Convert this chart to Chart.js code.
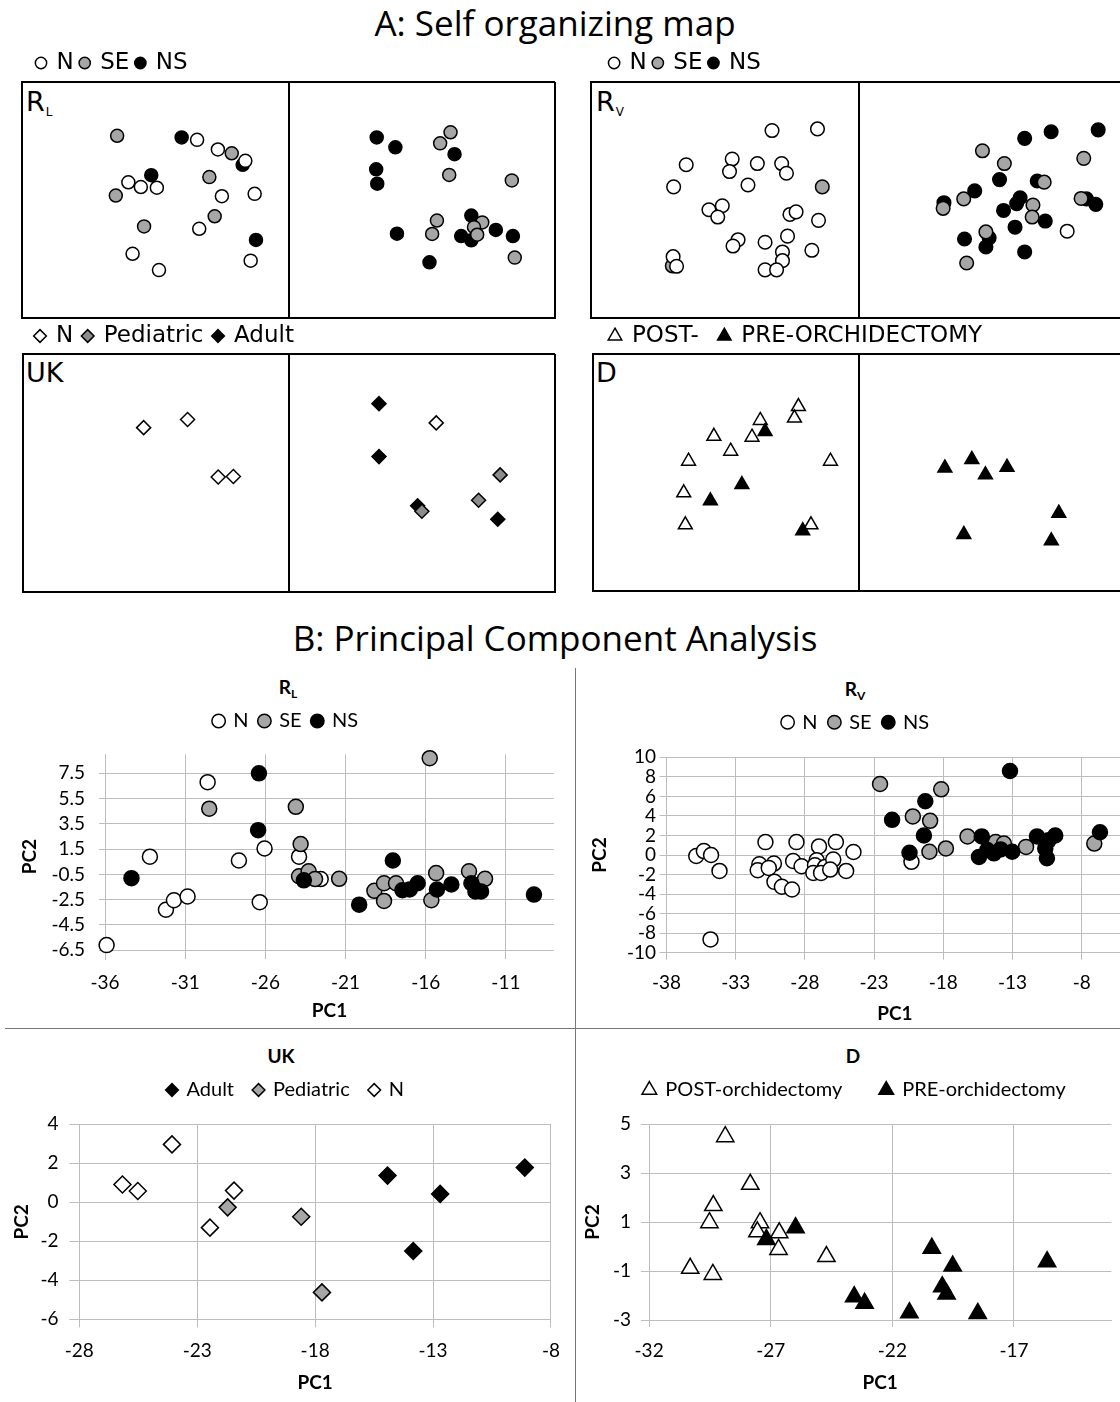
<!DOCTYPE html>
<html>
<head>
<meta charset="utf-8">
<title>SOM / PCA</title>
<script src="https://cdn.jsdelivr.net/npm/chart.js@4.4.1/dist/chart.umd.min.js"></script>
<style>
  html, body { margin: 0; padding: 0; }
  body { position: relative; width: 1120px; height: 1402px; overflow: hidden; background: #fff; color: #000; }
  .panel { position: absolute; }
  .panel canvas { display: block; }
  .head { position: absolute; left: 555px; transform: translate(-50%, -50%); font: 35px 'Open Sans', sans-serif; line-height: 1; white-space: nowrap; }
  .tag { position: absolute; font: 27px 'DejaVu Sans', sans-serif; line-height: 1; }
  .tag sub { font-size: 12px; vertical-align: -5px; margin-left: 1px; }
  .ptitle { position: absolute; transform: translate(-50%, -50%); font: bold 19px Lato, sans-serif; line-height: 1; white-space: nowrap; }
  .ptitle sub { font-size: 12px; vertical-align: -4px; }
  .rule { position: absolute; background: #777; }
</style>
</head>
<body>

<div class="head" style="top:22px">A: Self organizing map</div>
<div class="head" style="top:637px">B: Principal Component Analysis</div>

<div class="tag" style="left:26px;top:88px">R<sub>L</sub></div>
<div class="tag" style="left:596px;top:88px">R<sub>V</sub></div>
<div class="tag" style="left:26px;top:359px">UK</div>
<div class="tag" style="left:596px;top:359px">D</div>

<div class="ptitle" style="left:288px;top:688px">R<sub>L</sub></div>
<div class="ptitle" style="left:855px;top:690px">R<sub>V</sub></div>
<div class="ptitle" style="left:281px;top:1055px">UK</div>
<div class="ptitle" style="left:853px;top:1055px">D</div>

<div class="rule" style="left:575px;top:668px;width:1px;height:734px"></div>
<div class="rule" style="left:5px;top:1028px;width:1115px;height:1px"></div>

<script>
'use strict';

/* ── A: SOM node positions, map units (left half 0..1, right half 1..2) ── */
const SOM_RL_N  = [[0.657,0.755],[0.735,0.714],[0.838,0.666],[0.399,0.575],[0.446,0.555],[0.506,0.552],
                   [0.750,0.516],[0.873,0.526],[0.665,0.378],[0.415,0.272],[0.514,0.203],[0.858,0.243]];
const SOM_RL_SE = [[0.357,0.772],[0.787,0.698],[0.703,0.597],[0.352,0.519],[0.723,0.431],[0.458,0.388],
                   [1.608,0.787],[1.569,0.740],[1.603,0.606],[1.838,0.583],[1.557,0.413],[1.539,0.356],
                   [1.727,0.405],[1.696,0.385],[1.708,0.353],[1.849,0.256]];
const SOM_RL_NS = [[0.599,0.765],[0.485,0.605],[0.828,0.649],[0.878,0.331],[1.331,0.765],[1.401,0.723],
                   [1.623,0.694],[1.329,0.630],[1.333,0.569],[1.407,0.357],[1.686,0.434],[1.648,0.347],
                   [1.686,0.329],[1.778,0.373],[1.842,0.347],[1.529,0.236]];

const SOM_RV_N  = [[0.676,0.794],[0.846,0.801],[0.355,0.649],[0.527,0.673],[0.517,0.620],[0.621,0.654],
                   [0.712,0.654],[0.730,0.613],[0.308,0.555],[0.586,0.563],[0.440,0.458],[0.490,0.475],
                   [0.473,0.427],[0.743,0.438],[0.766,0.449],[0.850,0.413],[0.549,0.331],[0.530,0.304],
                   [0.650,0.320],[0.734,0.346],[0.715,0.279],[0.715,0.242],[0.825,0.286],[0.650,0.203],
                   [0.693,0.203],[0.306,0.259],[0.319,0.218],[1.780,0.367]];
const SOM_RV_SE = [[0.864,0.555],[0.303,0.220],[1.463,0.708],[1.545,0.654],[1.842,0.676],[1.694,0.575],
                   [1.393,0.504],[1.316,0.464],[1.652,0.478],[1.649,0.427],[1.476,0.364],[1.404,0.232],
                   [1.832,0.506]];
const SOM_RV_NS = [[1.621,0.761],[1.720,0.789],[1.896,0.797],[1.527,0.586],[1.668,0.580],[1.434,0.538],
                   [1.319,0.488],[1.604,0.509],[1.591,0.484],[1.542,0.455],[1.698,0.410],[1.585,0.384],
                   [1.396,0.334],[1.488,0.339],[1.476,0.300],[1.621,0.279],[1.852,0.504],[1.887,0.481]];

const SOM_UK_N     = [[0.455,0.690],[0.620,0.724],[0.735,0.482],[0.792,0.484],[1.554,0.710]];
const SOM_UK_PED   = [[1.794,0.491],[1.713,0.384],[1.500,0.338]];
const SOM_UK_ADULT = [[1.339,0.791],[1.339,0.568],[1.484,0.361],[1.785,0.304]];

const SOM_D_POST = [[0.772,0.778],[0.757,0.729],[0.629,0.719],[0.455,0.652],[0.598,0.648],[0.518,0.589],
                    [0.360,0.547],[0.892,0.547],[0.342,0.413],[0.348,0.278],[0.819,0.278]];
const SOM_D_PRE  = [[0.647,0.672],[0.560,0.448],[0.442,0.379],[0.788,0.253],[1.321,0.518],[1.422,0.554],
                    [1.473,0.489],[1.554,0.521],[1.748,0.327],[1.392,0.237],[1.720,0.210]];

/* ── B: PCA scores [PC1, PC2] ── */
const PCA_RL_N  = [[-35.9,-6.1],[-33.2,0.9],[-32.2,-3.3],[-31.7,-2.55],[-30.85,-2.25],[-29.6,6.8],
                   [-27.65,0.6],[-26.05,1.55],[-26.35,-2.7],[-23.9,0.9],[-22.55,-0.87]];
const PCA_RL_SE = [[-29.5,4.7],[-24.1,4.85],[-23.8,1.9],[-23.9,-0.65],[-23.3,-0.25],[-22.9,-0.87],
                   [-21.4,-0.85],[-19.2,-1.8],[-18.6,-1.2],[-18.6,-2.6],[-17.85,-1.2],[-15.75,8.7],
                   [-15.35,-0.4],[-15.65,-2.55],[-13.3,-0.25],[-12.3,-0.85]];
const PCA_RL_NS = [[-34.35,-0.8],[-26.4,7.5],[-26.45,3.0],[-23.6,-0.97],[-20.15,-2.9],[-18.05,0.6],
                   [-17.45,-1.75],[-17.0,-1.7],[-16.5,-1.2],[-15.3,-1.7],[-14.4,-1.3],[-13.15,-1.2],
                   [-12.9,-1.85],[-12.55,-1.85],[-9.25,-2.1]];

const PCA_RV_N  = [[-35.85,-0.1],[-35.3,0.4],[-34.78,0.0],[-34.17,-1.63],[-34.82,-8.64],[-30.85,1.32],
                   [-31.29,-0.95],[-31.41,-1.56],[-30.24,-0.88],[-30.61,-1.32],[-30.2,-2.75],[-29.66,-3.25],
                   [-28.93,-3.53],[-28.61,1.32],[-28.85,-0.61],[-28.24,-1.15],[-26.98,0.88],[-25.76,1.32],
                   [-24.49,0.31],[-27.15,-0.54],[-27.27,-1.05],[-26.54,-1.22],[-25.95,-0.47],[-25.02,-1.63],
                   [-27.39,-1.83],[-26.83,-1.83],[-26.17,-1.49],[-20.3,-0.7]];
const PCA_RV_SE = [[-22.57,7.27],[-18.15,6.72],[-20.2,3.95],[-18.95,3.5],[-19.0,0.33],[-17.81,0.67],
                   [-16.25,1.9],[-14.22,1.33],[-13.62,1.17],[-12.02,0.83],[-7.09,1.17]];
const PCA_RV_NS = [[-21.7,3.6],[-19.3,5.5],[-13.18,8.6],[-19.4,2.0],[-20.44,0.23],[-15.22,1.9],
                   [-15.42,-0.2],[-14.82,0.5],[-14.34,0.17],[-13.86,0.57],[-13.02,0.33],[-11.23,1.9],
                   [-10.39,1.5],[-9.91,2.0],[-10.63,0.67],[-10.51,-0.33],[-6.68,2.33]];

const PCA_UK_ADULT = [[-14.93,1.37],[-12.7,0.43],[-13.84,-2.5],[-9.11,1.78]];
const PCA_UK_PED   = [[-21.71,-0.26],[-18.59,-0.74],[-17.71,-4.62]];
const PCA_UK_N     = [[-24.07,2.97],[-26.17,0.91],[-25.52,0.58],[-21.44,0.6],[-22.46,-1.3]];

const PCA_D_POST = [[-28.87,4.48],[-27.84,2.54],[-29.36,1.67],[-29.52,0.97],[-27.44,0.97],[-27.55,0.6],
                    [-26.65,0.56],[-26.68,-0.12],[-24.71,-0.41],[-30.31,-0.89],[-29.38,-1.14]];
const PCA_D_PRE  = [[-27.18,0.29],[-25.98,0.77],[-23.57,-2.05],[-23.14,-2.32],[-21.3,-2.7],[-20.38,-0.07],
                    [-19.52,-0.8],[-19.95,-1.64],[-19.77,-1.94],[-18.49,-2.73],[-15.64,-0.62]];

/* ── axis ticks and ranges ── */
const RL_XTICKS = [-36, -31, -26, -21, -16, -11];
const RL_YTICKS = [-6.5, -4.5, -2.5, -0.5, 1.5, 3.5, 5.5, 7.5];
const RV_XTICKS = [-38, -33, -28, -23, -18, -13, -8];
const RV_YTICKS = [-10, -8, -6, -4, -2, 0, 2, 4, 6, 8, 10];
const UK_XTICKS = [-28, -23, -18, -13, -8];
const UK_YTICKS = [-6, -4, -2, 0, 2, 4];
const D_XTICKS  = [-32, -27, -22, -17];
const D_YTICKS  = [-3, -1, 1, 3, 5];

const RL_RANGE = { x: [-36, -8], y: [-7.2, 9] };
const RV_RANGE = { x: [-38, -5], y: [-10, 10] };
const UK_RANGE = { x: [-28, -8], y: [-6, 4] };
const D_RANGE  = { x: [-32, -13], y: [-3, 5] };

/* ── styles ── */
const INK = '#000000', WHITE = '#ffffff', GREY = '#a6a6a6', GRID = '#bdbdbd';

Chart.defaults.font.family = 'Lato, sans-serif';
Chart.defaults.color = INK;

const pts = rows => rows.map(([x, y]) => ({ x, y }));
const byIndex = (a, b) => a.datasetIndex - b.datasetIndex;

function series(s) {
  return {
    label: s.label,
    data: pts(s.data),
    pointStyle: s.shape,
    pointRadius: s.r,
    backgroundColor: s.fill,
    borderColor: INK,
    borderWidth: 1.5,
    order: s.order || 0,
    clip: false
  };
}

/* move the legend: extra room under it (fit override) and a sideways shift */
const legendNudge = {
  id: 'legendNudge',
  beforeInit(chart, args, opts) {
    const legend = chart.legend;
    const fit = legend.fit, draw = legend.draw;
    legend.fit = function () {
      fit.call(this);
      this.height += opts.gap || 0;
    };
    legend.draw = function () {
      this.ctx.save();
      this.ctx.translate(opts.dx || 0, 0);
      draw.call(this);
      this.ctx.restore();
    };
  }
};

/* build a chart in an absolute box, then pad the layout so the
   plot area lands on the page rectangle [l, t, r, b] */
function mount(wrap, plot, config) {
  const box = document.createElement('div');
  box.className = 'panel';
  box.style.cssText = `left:${wrap[0]}px;top:${wrap[1]}px;width:${wrap[2]}px;height:${wrap[3]}px`;
  const canvas = document.createElement('canvas');
  canvas.width = wrap[2];
  canvas.height = wrap[3];
  box.appendChild(canvas);
  document.body.appendChild(box);

  const chart = new Chart(canvas, config);
  for (let i = 0; i < 3; i++) {
    const ca = chart.chartArea;
    const p = config.options.layout.padding;
    p.left += plot[0] - wrap[0] - ca.left;
    p.top += plot[1] - wrap[1] - ca.top;
    p.right += ca.right - (plot[2] - wrap[0]);
    p.bottom += ca.bottom - (plot[3] - wrap[1]);
    chart.update();
  }
  return chart;
}

function somChart(wrap, plot, sets, lg) {
  const side = {
    min: 0,
    ticks: { display: false, stepSize: 1 },
    grid: { color: INK, lineWidth: 2, drawTicks: false },
    border: { color: INK, width: 2 }
  };
  return mount(wrap, plot, {
    type: 'scatter',
    data: { datasets: sets.map(series) },
    options: {
      animation: false, responsive: false, events: [],
      layout: { padding: { left: 0, top: 0, right: 0, bottom: 0 } },
      plugins: {
        legend: {
          align: 'start',
          labels: {
            usePointStyle: true, boxWidth: lg.box, boxHeight: lg.box, padding: lg.pad,
            font: { family: "'DejaVu Sans', sans-serif", size: 23 }, sort: byIndex
          }
        },
        legendNudge: { gap: lg.gap, dx: lg.dx },
        tooltip: { enabled: false }
      },
      scales: { x: { ...side, max: 2 }, y: { ...side, max: 1 } }
    },
    plugins: [legendNudge]
  });
}

function pcaChart(wrap, plot, sets, ax) {
  const tickFont = { size: 19 };
  const titleFont = { size: 19, weight: 'bold' };
  return mount(wrap, plot, {
    type: 'scatter',
    data: { datasets: sets.map(series) },
    options: {
      animation: false, responsive: false, events: [],
      layout: { padding: { left: 0, top: 0, right: 0, bottom: 0 } },
      plugins: {
        legend: {
          labels: {
            usePointStyle: true, boxWidth: ax.box, boxHeight: ax.box, padding: ax.legendPad,
            font: { size: 20 }, sort: byIndex
          }
        },
        legendNudge: { gap: ax.gap, dx: ax.dx || 0 },
        tooltip: { enabled: false }
      },
      scales: {
        x: {
          min: ax.range.x[0], max: ax.range.x[1],
          afterBuildTicks: s => { s.ticks = ax.xTicks.map(value => ({ value })); },
          ticks: { font: tickFont, padding: 12, autoSkip: false, maxRotation: 0, callback: v => String(v) },
          grid: { color: GRID, drawTicks: ax.xTickLen > 0, tickLength: ax.xTickLen },
          border: { display: ax.xBorder, color: GRID },
          title: { display: true, text: 'PC1', font: titleFont, padding: { top: ax.xTitlePad, bottom: 0 } }
        },
        y: {
          min: ax.range.y[0], max: ax.range.y[1],
          afterBuildTicks: s => { s.ticks = ax.yTicks.map(value => ({ value })); },
          ticks: { font: tickFont, padding: ax.yPad, autoSkip: false, callback: v => String(v) },
          grid: { color: GRID, drawTicks: true, tickLength: ax.yTickLen },
          border: { color: GRID },
          title: { display: true, text: 'PC2', font: titleFont, padding: { top: 0, bottom: ax.yTitlePad } }
        }
      }
    },
    plugins: [legendNudge]
  });
}

/* ── A: self organizing map ── */
somChart([14, 36, 560, 290], [24, 82, 555, 317], [
  { label: 'N',  data: SOM_RL_N,  shape: 'circle', r: 6.5, fill: WHITE },
  { label: 'SE', data: SOM_RL_SE, shape: 'circle', r: 6.5, fill: GREY },
  { label: 'NS', data: SOM_RL_NS, shape: 'circle', r: 6.5, fill: INK }
], { box: 8, pad: 7, gap: -2.5, dx: 10 });

somChart([583, 36, 560, 290], [593, 82, 1126, 317], [
  { label: 'N',  data: SOM_RV_N,  shape: 'circle', r: 6.8, fill: WHITE },
  { label: 'SE', data: SOM_RV_SE, shape: 'circle', r: 6.8, fill: GREY },
  { label: 'NS', data: SOM_RV_NS, shape: 'circle', r: 6.8, fill: INK }
], { box: 8, pad: 7, gap: -2.5, dx: 15 });

somChart([14, 310, 560, 290], [24, 354, 555, 589], [
  { label: 'N',         data: SOM_UK_N,     shape: 'rectRot', r: 7, fill: WHITE },
  { label: 'Pediatric', data: SOM_UK_PED,   shape: 'rectRot', r: 7, fill: '#8c8c8c' },
  { label: 'Adult',     data: SOM_UK_ADULT, shape: 'rectRot', r: 7, fill: INK }
], { box: 9, pad: 10, gap: -3.5, dx: 7 });

somChart([583, 310, 560, 290], [594, 354, 1126, 589], [
  { label: 'POST-',            data: SOM_D_POST, shape: 'triangle', r: 8, fill: WHITE, order: 2 },
  { label: 'PRE-ORCHIDECTOMY', data: SOM_D_PRE,  shape: 'triangle', r: 8, fill: INK,   order: 1 }
], { box: 11, pad: 20, gap: -3.5, dx: 2 });

/* ── B: principal component analysis ── */
pcaChart([0, 690, 572, 345], [105, 754.4, 554, 959], [
  { label: 'N',  data: PCA_RL_N,  shape: 'circle', r: 7.5, fill: WHITE, order: 3 },
  { label: 'SE', data: PCA_RL_SE, shape: 'circle', r: 7.5, fill: GREY,  order: 2 },
  { label: 'NS', data: PCA_RL_NS, shape: 'circle', r: 7.5, fill: INK,   order: 1 }
], { range: RL_RANGE, xTicks: RL_XTICKS, yTicks: RL_YTICKS, xTickLen: 0, yTickLen: 6, yPad: 14,
     yTitlePad: -3.4, xTitlePad: -6.2, xBorder: false, legendPad: 11, gap: 13.4, box: 9.5 });

pcaChart([577, 690, 560, 345], [666.5, 757.3, 1123.2, 952.7], [
  { label: 'N',  data: PCA_RV_N,  shape: 'circle', r: 7.5, fill: WHITE, order: 3 },
  { label: 'SE', data: PCA_RV_SE, shape: 'circle', r: 7.5, fill: GREY,  order: 2 },
  { label: 'NS', data: PCA_RV_NS, shape: 'circle', r: 7.5, fill: INK,   order: 1 }
], { range: RV_RANGE, xTicks: RV_XTICKS, yTicks: RV_YTICKS, xTickLen: 7, yTickLen: 7, yPad: 3.5,
     yTitlePad: 11.8, xTitlePad: -4, xBorder: true, legendPad: 12, gap: 15, box: 9.5 });

pcaChart([0, 1050, 572, 352], [79.3, 1124.3, 547.3, 1319.3], [
  { label: 'Adult',     data: PCA_UK_ADULT, shape: 'rectRot', r: 8.5, fill: INK },
  { label: 'Pediatric', data: PCA_UK_PED,   shape: 'rectRot', r: 8.5, fill: GREY },
  { label: 'N',         data: PCA_UK_N,     shape: 'rectRot', r: 8.5, fill: WHITE }
], { range: UK_RANGE, xTicks: UK_XTICKS, yTicks: UK_YTICKS, xTickLen: 8, yTickLen: 10, yPad: 10.8,
     yTitlePad: -3.6, xTitlePad: -2.5, xBorder: true, legendPad: 20, gap: 14.3, box: 9 });

pcaChart([577, 1025, 556, 377], [649.1, 1124, 1111.3, 1320], [
  { label: 'POST-orchidectomy', data: PCA_D_POST, shape: 'triangle', r: 10, fill: WHITE, order: 2 },
  { label: 'PRE-orchidectomy',  data: PCA_D_PRE,  shape: 'triangle', r: 10, fill: INK,   order: 1 }
], { range: D_RANGE, xTicks: D_XTICKS, yTicks: D_YTICKS, xTickLen: 7, yTickLen: 8, yPad: 10,
     yTitlePad: -1.6, xTitlePad: -2.2, xBorder: true, legendPad: 38, gap: 14, box: 12, dx: 8 });
</script>
</body>
</html>
